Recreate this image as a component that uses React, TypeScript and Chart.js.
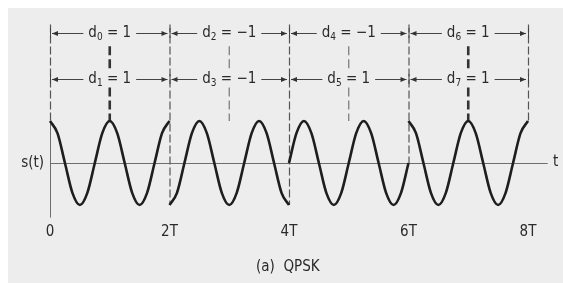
import React, { useEffect, useRef } from "react";
import { Chart, registerables } from "chart.js";
Chart.register(...registerables);

// symbol boundaries (in units of T) and tick labels
const boundaries = [0, 2, 4, 6, 8];
const tickLabels = ["0", "2T", "4T", "6T", "8T"];
const midMarks = [1, 3, 5, 7];

// symbol labels
const topIndex = ["0", "2", "4", "6"];
const topValue = ["1", "−1", "−1", "1"];
const bottomIndex = ["1", "3", "5", "7"];
const bottomValue = ["1", "−1", "1", "1"];

// waveform samples per 2T segment, every T/8
const sampleStep = 0.125;
const segment0 = [1, 0.71, 0, -0.71, -1, -0.71, 0, 0.71, 1, 0.71, 0, -0.71, -1, -0.71, 0, 0.71, 1];
const segment1 = [-1, -0.71, 0, 0.71, 1, 0.71, 0, -0.71, -1, -0.71, 0, 0.71, 1, 0.71, 0, -0.71, -1];
const segment2 = [0, 0.71, 1, 0.71, 0, -0.71, -1, -0.71, 0, 0.71, 1, 0.71, 0, -0.71, -1, -0.71, 0];
const segment3 = [1, 0.71, 0, -0.71, -1, -0.71, 0, 0.71, 1, 0.71, 0, -0.71, -1, -0.71, 0, 0.71, 1];
const segments = [segment0, segment1, segment2, segment3];
const segmentStart = [0, 2, 4, 6];
// where the dashed boundary line ends (wave value at the boundary, lower side)
const boundaryEnd = [1, -1, -1, 0, 1];

const FONT = "'Liberation Sans Narrow', 'DejaVu Sans Condensed', 'Liberation Sans', Arial, sans-serif";

export default function App() {
  const ref = useRef<HTMLCanvasElement | null>(null);
  useEffect(() => {
    const canvas = ref.current!;
    const ink = "#2a2a2a";
    const grey = "#6e6e6e";

    const overlay = {
      id: "overlay",
      beforeDatasetsDraw(chart: any) {
        const ctx = chart.ctx;
        const xs = chart.scales.x;
        const ys = chart.scales.y;
        const X = (v: number) => xs.getPixelForValue(v);
        const Y = (v: number) => ys.getPixelForValue(v);
        ctx.save();
        // axes
        ctx.strokeStyle = grey;
        ctx.lineWidth = 1;
        ctx.setLineDash([]);
        ctx.beginPath();
        ctx.moveTo(X(0), Y(0) + 0.5);
        ctx.lineTo(X(8.33), Y(0) + 0.5);
        ctx.moveTo(X(0) + 0.5, Y(1));
        ctx.lineTo(X(0) + 0.5, Y(-1.3));
        ctx.stroke();
        // boundary dashed lines
        ctx.strokeStyle = "#555";
        ctx.lineWidth = 1.2;
        ctx.setLineDash([8, 3]);
        boundaries.forEach((b, i) => {
          ctx.beginPath();
          ctx.moveTo(X(b) + 0.5, Y(3.3));
          ctx.lineTo(X(b) + 0.5, Y(boundaryEnd[i]));
          ctx.stroke();
        });
        // mid-symbol dashed marks (broken around the second label row)
        midMarks.forEach((m, i) => {
          ctx.lineWidth = i === 0 || i === 3 ? 2.6 : 1.2;
          ctx.strokeStyle = i === 0 || i === 3 ? "#333" : "#777";
          ctx.setLineDash([9, 4]);
          ctx.beginPath();
          ctx.moveTo(X(m), Y(2.78));
          ctx.lineTo(X(m), Y(2.2));
          ctx.moveTo(X(m), Y(1.8));
          ctx.lineTo(X(m), Y(1.0));
          ctx.stroke();
        });
        ctx.restore();
      },
      afterDatasetsDraw(chart: any) {
        const ctx = chart.ctx;
        const xs = chart.scales.x;
        const ys = chart.scales.y;
        const X = (v: number) => xs.getPixelForValue(v);
        const Y = (v: number) => ys.getPixelForValue(v);
        ctx.save();
        ctx.setLineDash([]);

        const mainSize = 15;
        const subSize = 10;
        const measureLabel = (idx: string, val: string) => {
          ctx.font = `${mainSize}px ${FONT}`;
          const wd = ctx.measureText("d").width;
          const wr = ctx.measureText(" = " + val).width;
          ctx.font = `${subSize}px ${FONT}`;
          const ws = ctx.measureText(idx).width;
          return { wd, ws, wr, w: wd + ws + wr };
        };
        const drawLabel = (cx: number, cy: number, idx: string, val: string) => {
          const m = measureLabel(idx, val);
          let x = cx - m.w / 2;
          ctx.fillStyle = ink;
          ctx.textBaseline = "middle";
          ctx.textAlign = "left";
          ctx.font = `${mainSize}px ${FONT}`;
          ctx.fillText("d", x, cy);
          x += m.wd;
          ctx.font = `${subSize}px ${FONT}`;
          ctx.fillText(idx, x, cy + 4);
          x += m.ws;
          ctx.font = `${mainSize}px ${FONT}`;
          ctx.fillText(" = " + val, x, cy);
          return m.w;
        };
        const arrow = (x0: number, x1: number, y: number) => {
          ctx.strokeStyle = "#444";
          ctx.fillStyle = "#333";
          ctx.lineWidth = 1;
          ctx.beginPath();
          ctx.moveTo(x0, y + 0.5);
          ctx.lineTo(x1, y + 0.5);
          ctx.stroke();
          const dir = x1 > x0 ? 1 : -1;
          ctx.beginPath();
          ctx.moveTo(x1, y + 0.5);
          ctx.lineTo(x1 - dir * 6, y - 2);
          ctx.lineTo(x1 - dir * 6, y + 3);
          ctx.closePath();
          ctx.fill();
        };
        const rows = [
          { yv: 3.1, idx: topIndex, val: topValue },
          { yv: 2.0, idx: bottomIndex, val: bottomValue },
        ];
        rows.forEach((row) => {
          const y = Math.round(Y(row.yv));
          for (let i = 0; i < 4; i++) {
            const xl = X(boundaries[i]);
            const xr = X(boundaries[i + 1]);
            const cx = (xl + xr) / 2;
            const w = drawLabel(cx, y, row.idx[i], row.val[i]);
            arrow(cx - w / 2 - 5, xl + 2, y);
            arrow(cx + w / 2 + 5, xr - 2, y);
          }
          // end bars
          ctx.strokeStyle = "#444";
          ctx.lineWidth = 1;
          boundaries.forEach((b) => {
            ctx.beginPath();
            ctx.moveTo(X(b) + 0.5, y - 5);
            ctx.lineTo(X(b) + 0.5, y + 5);
            ctx.stroke();
          });
        });

        // tick labels
        ctx.fillStyle = ink;
        ctx.font = `15px ${FONT}`;
        ctx.textAlign = "center";
        ctx.textBaseline = "middle";
        boundaries.forEach((b, i) => {
          ctx.fillText(tickLabels[i], X(b), Y(-1.64));
        });
        // axis names
        ctx.textAlign = "right";
        ctx.fillText("s(t)", X(0) - 6, Y(0));
        ctx.textAlign = "left";
        ctx.fillText("t", X(8.42), Y(0) - 1);
        // caption
        ctx.textAlign = "center";
        ctx.font = `15px ${FONT}`;
        ctx.fillText("(a)  QPSK", X(3.98), Y(-2.48));
        ctx.restore();
      },
    };

    const chart = new Chart(canvas, {
      type: "line",
      data: {
        datasets: segments.map((seg, s) => ({
          data: seg.map((v, i) => ({ x: segmentStart[s] + i * sampleStep, y: v })),
          borderColor: "#1e1e1e",
          borderWidth: 2.6,
          pointRadius: 0,
          cubicInterpolationMode: "monotone" as const,
          fill: false,
          clip: false as any,
        })),
      },
      options: {
        responsive: false,
        animation: false,
        devicePixelRatio: 1,
        layout: { padding: { left: 42, right: 35, top: 16.4, bottom: 65.4 } },
        plugins: { legend: { display: false }, tooltip: { enabled: false } },
        scales: {
          x: { type: "linear", min: 0, max: 8, display: false },
          y: { type: "linear", min: -1.3, max: 3.3, display: false },
        },
      },
      plugins: [overlay],
    });
    return () => chart.destroy();
  }, []);

  return (
    <canvas
      ref={ref}
      width={555}
      height={275}
      style={{ position: "absolute", left: 8, top: 8, width: 555, height: 275, background: "#ededed", display: "block" }}
    />
  );
}
